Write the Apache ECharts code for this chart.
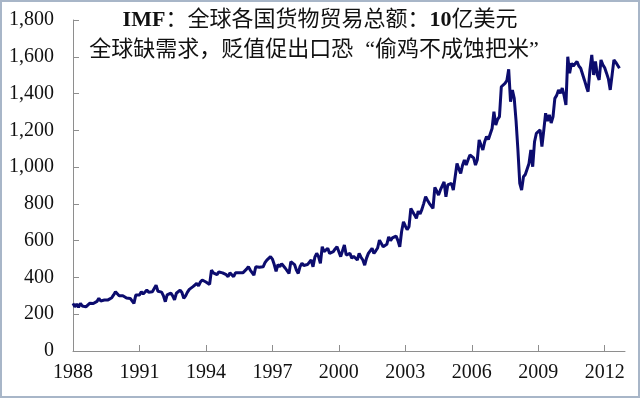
<!DOCTYPE html>
<html>
<head>
<meta charset="utf-8">
<script src="https://cdn.jsdelivr.net/npm/echarts@6/dist/echarts.min.js"></script>
<style>
html, body { margin: 0; padding: 0; background: #fff; }
#chart { width: 640px; height: 398px; }
</style>
</head>
<body>
<div id="chart"></div>
<script>
// 月度数据（10亿美元），自1988年1月起
var startYear = 1988;
var y1988 = [259, 240, 255, 238, 259, 245, 250, 240, 232, 259, 262, 258];
var y1989 = [260, 270, 286, 272, 278, 277, 280, 278, 285, 290, 305, 322];
var y1990 = [315, 300, 295, 300, 292, 288, 290, 286, 286, 259, 304, 300];
var y1991 = [305, 322, 310, 315, 331, 320, 318, 322, 340, 358, 325, 335];
var y1992 = [320, 300, 268, 305, 310, 315, 300, 278, 314, 320, 331, 318];
var y1993 = [287, 300, 320, 335, 330, 350, 360, 367, 355, 375, 386, 392];
var y1994 = [375, 367, 362, 440, 425, 422, 415, 430, 431, 425, 420, 415];
var y1995 = [404, 425, 420, 404, 425, 430, 425, 420, 425, 435, 445, 458];
var y1996 = [440, 430, 413, 458, 450, 455, 465, 458, 480, 494, 500, 513];
var y1997 = [500, 470, 433, 470, 458, 475, 470, 450, 440, 422, 486, 478];
var y1998 = [470, 440, 422, 460, 477, 465, 458, 470, 477, 495, 458, 510];
var y1999 = [531, 513, 477, 567, 540, 531, 558, 531, 535, 540, 555, 567];
var y2000 = [540, 513, 545, 576, 522, 530, 531, 504, 515, 513, 495, 531];
var y2001 = [510, 495, 467, 505, 531, 540, 558, 531, 545, 560, 603, 594];
var y2002 = [567, 560, 580, 621, 600, 615, 610, 625, 600, 567, 650, 703];
var y2003 = [680, 660, 676, 775, 776, 740, 721, 760, 745, 770, 803, 839];
var y2004 = [820, 803, 794, 776, 890, 870, 848, 876, 870, 920, 839, 903];
var y2005 = [900, 912, 875, 880, 1020, 990, 966, 1010, 1038, 1011, 1040, 1066];
var y2006 = [1075, 1050, 1011, 1040, 1148, 1120, 1093, 1138, 1166, 1150, 1148, 1210];
var y2007 = [1301, 1229, 1260, 1275, 1437, 1430, 1455, 1470, 1532, 1356, 1419, 1374];
var y2008 = [1250, 1093, 912, 875, 948, 960, 966, 1020, 1093, 1002, 1138, 1184];
var y2009 = [1184, 1202, 1111, 1200, 1293, 1250, 1284, 1240, 1274, 1374, 1390, 1420];
var y2010 = [1401, 1430, 1390, 1338, 1600, 1511, 1565, 1550, 1547, 1574, 1550, 1538];
var y2011 = [1540, 1474, 1440, 1410, 1528, 1610, 1501, 1574, 1501, 1474, 1583, 1556];
var y2012 = [1540, 1511, 1480, 1420, 1500, 1583, 1570, 1560, 1538];

var yearTicks = [1988, 1991, 1994, 1997, 2000, 2003, 2006, 2009, 2012];

// 标题（rich 标记只控制粗细和引号占位）
var titleLine1 = '{b|IMF}：全球各国货物贸易总额：{b|10}亿美元';
var titleLine2 = '全球缺需求，贬值促出口恐{qo|“}偷鸡不成蚀把米{qc|”}';

// 拼接为 [月序号, 数值]
var allYears = [y1988, y1989, y1990, y1991, y1992, y1993, y1994, y1995, y1996, y1997, y1998, y1999,
    y2000, y2001, y2002, y2003, y2004, y2005, y2006, y2007, y2008, y2009, y2010, y2011, y2012];
var seriesData = [];
var m = 0;
for (var i = 0; i < allYears.length; i++) {
    for (var j = 0; j < allYears[i].length; j++) {
        seriesData.push([m, allYears[i][j]]);
        m++;
    }
}
var xTickValues = [];
for (var k = 0; k < yearTicks.length; k++) {
    xTickValues.push((yearTicks[k] - startYear) * 12);
}

var fontFam = '"Liberation Serif", "Noto Sans CJK SC", serif';
var axisColor = '#8e8e8e';
var txtColor = '#111';

var myChart = echarts.init(document.getElementById('chart'));
myChart.setOption({
    animation: false,
    title: [
        {
            text: titleLine1,
            left: 'center',
            top: 4,
            textStyle: {
                fontFamily: fontFam, fontSize: 22, fontWeight: 'normal', color: txtColor,
                rich: {
                    b: { fontFamily: fontFam, fontSize: 22, fontWeight: 'bold', color: txtColor }
                }
            }
        },
        {
            text: titleLine2,
            left: 'center',
            top: 34,
            textStyle: {
                fontFamily: fontFam, fontSize: 22, fontWeight: 'normal', color: txtColor,
                rich: {
                    qo: { fontFamily: fontFam, fontSize: 22, color: txtColor, padding: [0, 0, 0, 12] },
                    qc: { fontFamily: fontFam, fontSize: 22, color: txtColor, padding: [0, 12, 0, 0] }
                }
            }
        }
    ],
    graphic: [{
        type: 'rect',
        shape: { x: 1, y: 1, width: 638, height: 396 },
        style: { fill: 'none', stroke: '#a8b6c8', lineWidth: 2 },
        silent: true
    }],
    grid: { left: 73, right: 15, top: 20, bottom: 47 },
    xAxis: {
        type: 'value',
        min: 0,
        max: 299,
        splitLine: { show: false },
        axisLine: { lineStyle: { color: axisColor, width: 1 } },
        axisTick: { inside: true, length: 6, lineStyle: { color: axisColor }, customValues: xTickValues },
        axisLabel: {
            customValues: xTickValues,
            margin: 12,
            fontFamily: fontFam,
            fontSize: 20,
            color: txtColor,
            formatter: function (v) { return String(startYear + Math.round(v / 12)); }
        }
    },
    yAxis: {
        type: 'value',
        min: 0,
        max: 1800,
        interval: 200,
        splitLine: { show: false },
        axisLine: { show: true, lineStyle: { color: axisColor, width: 1 } },
        axisTick: { show: true, inside: true, length: 6, lineStyle: { color: axisColor } },
        axisLabel: {
            margin: 19,
            fontFamily: fontFam,
            fontSize: 20,
            color: txtColor,
            formatter: function (v) { return v.toLocaleString('en-US'); }
        }
    },
    series: [{
        type: 'line',
        data: seriesData,
        showSymbol: false,
        symbol: 'none',
        lineStyle: { color: '#0c0c6e', width: 3 }
    }]
});
</script>
</body>
</html>
